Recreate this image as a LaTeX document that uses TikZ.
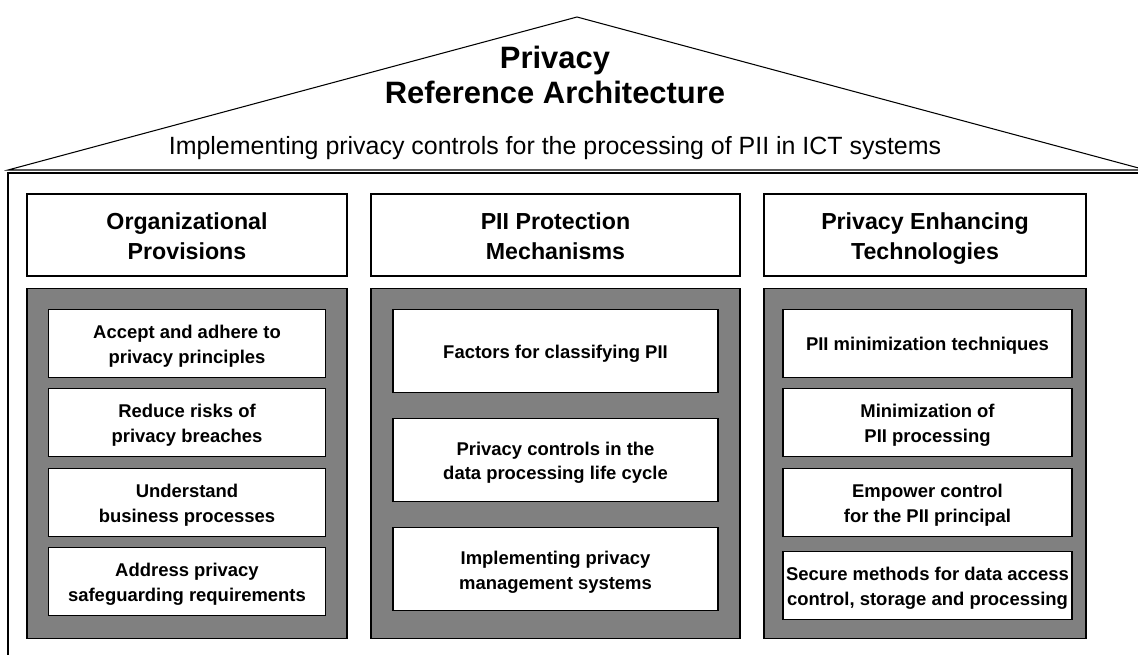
\documentclass[tikz,border=0pt]{standalone}
\usepackage{fontspec}
\setmainfont{Liberation Sans}
\usetikzlibrary{positioning}

\newcommand{\headtop}{\rule{0pt}{14.3pt}}
\newcommand{\itemtop}{\rule{0pt}{11.5pt}}

\tikzset{
  head/.style={draw, line width=0.8pt, fill=white, align=center, inner sep=0pt,
    minimum height=1.64cm, font=\fontsize{13.2}{17}\selectfont\bfseries,
    execute at end node={\rule[-3pt]{0pt}{0pt}}},
  panel/.style={draw, line width=0.7pt, fill=gray, inner sep=0pt, minimum height=7cm},
  item/.style={draw, line width=0.7pt, fill=white, align=center, inner sep=0pt,
    font=\fontsize{10.5}{14.2}\selectfont\bfseries,
    execute at end node={\rule[-3pt]{0pt}{0pt}}},
}

\begin{document}
\begin{tikzpicture}[x=0.02cm,y=-0.02cm,node distance=0.2cm]

  \useasboundingbox (0,0) rectangle (1138,655);
  \clip (0,0) rectangle (1138,655);

  % roof and walls
  \coordinate (eaveL) at (8,170);
  \coordinate (ridge) at (577,17);
  \coordinate (eaveR) at (1146,170);
  \draw[line width=0.6pt] (eaveL) -- (ridge) -- (eaveR) -- cycle;
  \draw[line width=0.7pt] (8,173) rectangle (1160,690);

  \node[align=center, font=\fontsize{17.6}{20}\selectfont\bfseries] (title) at (555,75) {Privacy\\Reference Architecture};
  \node[anchor=base, font=\fontsize{14.2}{17}\selectfont] (subtitle) at (555,154) {Implementing privacy controls for the processing of PII in ICT systems};

  % column heads
  \node[head, minimum width=6.4cm] (org) at (187,235) {\headtop Organizational\\Provisions};
  \node[head, minimum width=7.38cm] (pii) at (555.5,235) {\headtop PII Protection\\Mechanisms};
  \node[head, minimum width=6.44cm] (pet) at (925,235) {\headtop Privacy Enhancing\\Technologies};

  % grey panels
  \node[panel, minimum width=6.4cm, below=0.22cm of org] (orgpanel) {};
  \node[panel, minimum width=7.38cm, below=0.22cm of pii] (piipanel) {};
  \node[panel, minimum width=6.44cm, below=0.22cm of pet] (petpanel) {};

  % organizational provisions
  \begin{scope}[every node/.append style={item, minimum width=5.54cm, minimum height=1.36cm}]
    \node[below=0.42cm of orgpanel.north] (org1) {\itemtop Accept and adhere to\\privacy principles};
    \node[below=of org1] (org2) {\itemtop Reduce risks of\\privacy breaches};
    \node[below=0.21cm of org2] (org3) {\itemtop Understand\\business processes};
    \node[below=of org3] (org4) {\itemtop Address privacy\\safeguarding requirements};
  \end{scope}

  % PII protection mechanisms
  \begin{scope}[every node/.append style={item, minimum width=6.5cm, minimum height=1.66cm}]
    \node[below=0.42cm of piipanel.north] (pii1) {\itemtop Factors for classifying PII};
    \node[below=0.5cm of pii1] (pii2) {\itemtop Privacy controls in the\\data processing life cycle};
    \node[below=0.5cm of pii2] (pii3) {\itemtop Implementing privacy\\management systems};
  \end{scope}

  % privacy enhancing technologies
  \begin{scope}[every node/.append style={item, minimum width=5.78cm, minimum height=1.36cm}]
    \node[below=0.42cm of petpanel.north, xshift=0.05cm] (pet1) {\itemtop PII minimization techniques};
    \node[below=of pet1] (pet2) {\itemtop Minimization of\\PII processing};
    \node[below=0.21cm of pet2] (pet3) {\itemtop Empower control\\for the PII principal};
    \node[below=0.28cm of pet3] (pet4) {\itemtop Secure methods for data access\\control, storage and processing};
  \end{scope}

\end{tikzpicture}
\end{document}
